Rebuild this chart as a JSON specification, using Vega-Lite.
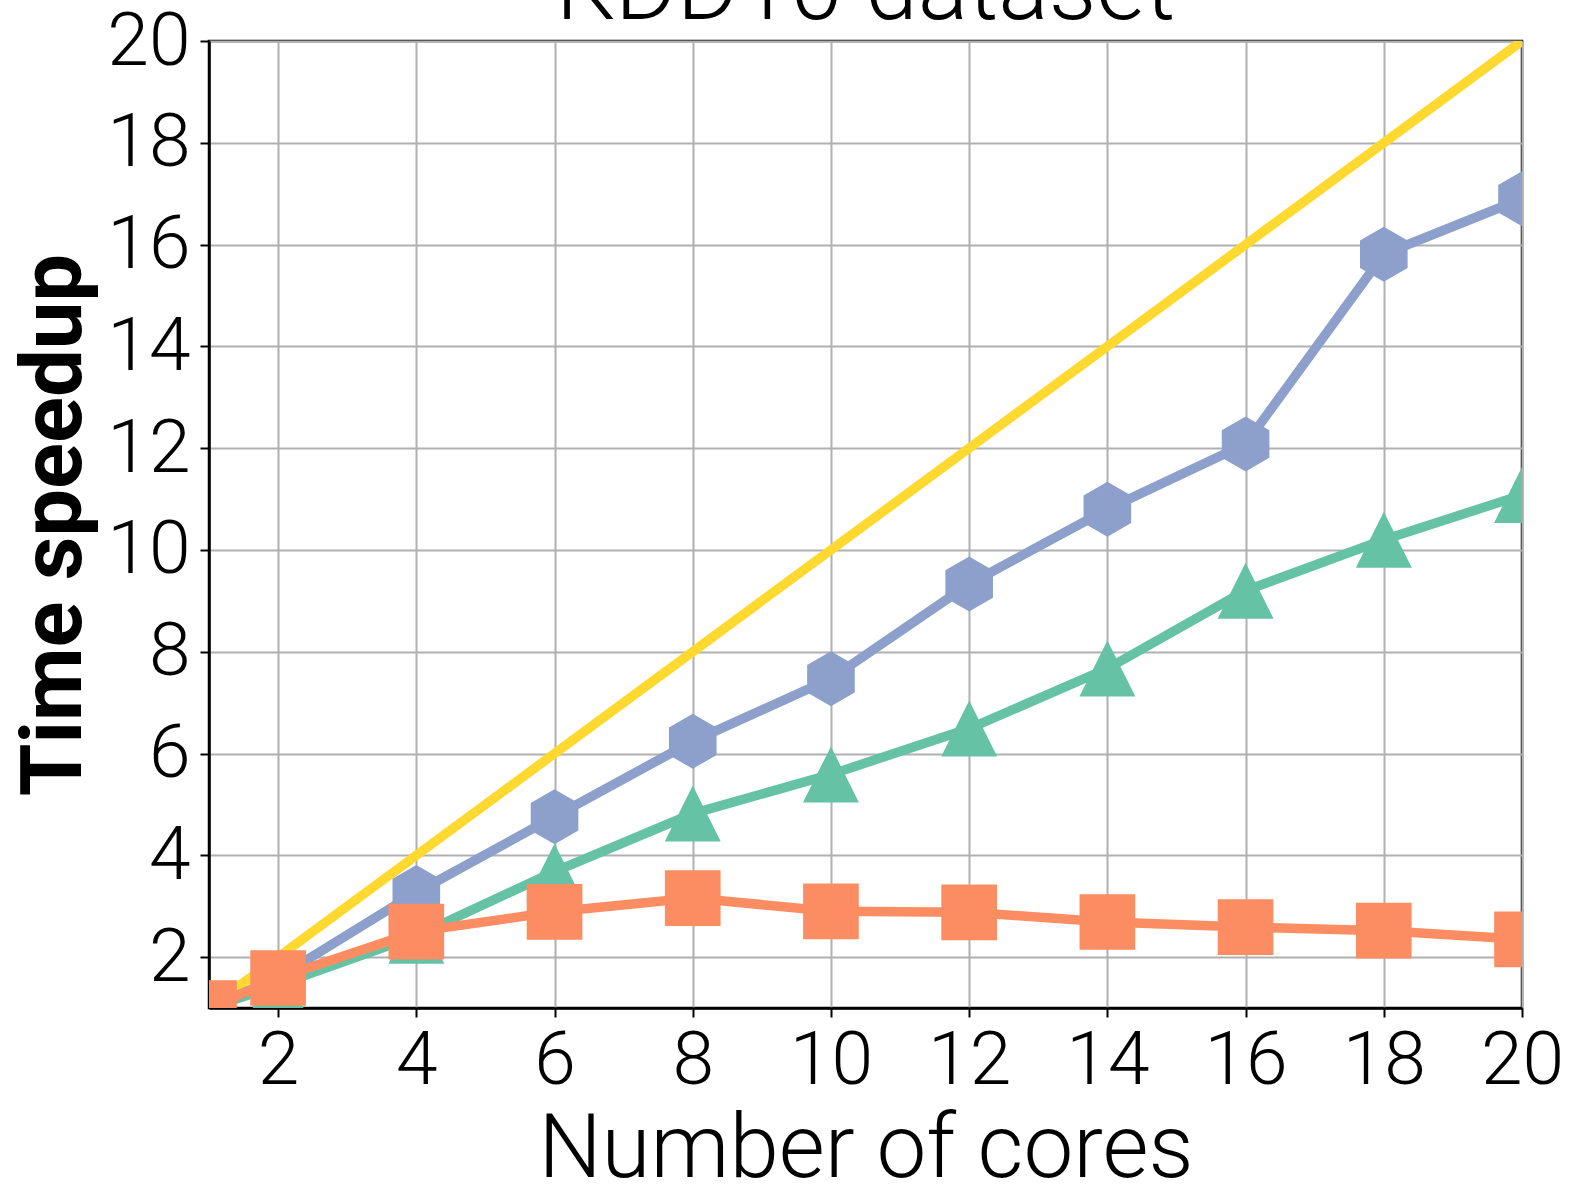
{
  "$schema": "https://vega.github.io/schema/vega-lite/v6.json",
  "autosize": {"type": "none"},
  "width": 1313,
  "height": 967,
  "padding": {"left": 209, "top": 41, "right": 56, "bottom": 178},
  "background": "white",
  "title": {
    "text": "KDD10 dataset",
    "font": "Roboto",
    "fontWeight": 300,
    "fontSize": 94,
    "color": "black",
    "baseline": "alphabetic",
    "anchor": "middle",
    "frame": "group",
    "offset": 0,
    "dy": 109
  },
  "config": {
    "view": {"stroke": "black", "strokeWidth": 2.5},
    "axis": {
      "labelFont": "Roboto",
      "labelFontWeight": 300,
      "labelFontSize": 75,
      "labelColor": "black",
      "tickColor": "black",
      "tickWidth": 2,
      "tickSize": 9,
      "domainColor": "black",
      "domainWidth": 2.5,
      "gridColor": "#b0b0b0",
      "gridWidth": 2,
      "gridOpacity": 1,
      "titleColor": "black",
      "labelFlush": false,
      "labelOverlap": false
    }
  },
  "data": {
    "values": [
      {"cores": 1, "speedup": 1, "series": "ideal"},
      {"cores": 20, "speedup": 20, "series": "ideal"},
      {"cores": 1, "speedup": 1.0, "series": "green"},
      {"cores": 2, "speedup": 1.45, "series": "green"},
      {"cores": 4, "speedup": 2.42, "series": "green"},
      {"cores": 6, "speedup": 3.68, "series": "green"},
      {"cores": 8, "speedup": 4.82, "series": "green"},
      {"cores": 10, "speedup": 5.59, "series": "green"},
      {"cores": 12, "speedup": 6.49, "series": "green"},
      {"cores": 14, "speedup": 7.67, "series": "green"},
      {"cores": 16, "speedup": 9.2, "series": "green"},
      {"cores": 18, "speedup": 10.2, "series": "green"},
      {"cores": 20, "speedup": 11.08, "series": "green"},
      {"cores": 1, "speedup": 1.0, "series": "blue"},
      {"cores": 2, "speedup": 1.6, "series": "blue"},
      {"cores": 4, "speedup": 3.27, "series": "blue"},
      {"cores": 6, "speedup": 4.76, "series": "blue"},
      {"cores": 8, "speedup": 6.24, "series": "blue"},
      {"cores": 10, "speedup": 7.47, "series": "blue"},
      {"cores": 12, "speedup": 9.33, "series": "blue"},
      {"cores": 14, "speedup": 10.8, "series": "blue"},
      {"cores": 16, "speedup": 12.08, "series": "blue"},
      {"cores": 18, "speedup": 15.81, "series": "blue"},
      {"cores": 20, "speedup": 16.9, "series": "blue"},
      {"cores": 1, "speedup": 1.0, "series": "orange"},
      {"cores": 2, "speedup": 1.59, "series": "orange"},
      {"cores": 4, "speedup": 2.5, "series": "orange"},
      {"cores": 6, "speedup": 2.89, "series": "orange"},
      {"cores": 8, "speedup": 3.16, "series": "orange"},
      {"cores": 10, "speedup": 2.9, "series": "orange"},
      {"cores": 12, "speedup": 2.88, "series": "orange"},
      {"cores": 14, "speedup": 2.69, "series": "orange"},
      {"cores": 16, "speedup": 2.59, "series": "orange"},
      {"cores": 18, "speedup": 2.52, "series": "orange"},
      {"cores": 20, "speedup": 2.35, "series": "orange"}
    ]
  },
  "encoding": {
    "x": {
      "field": "cores",
      "type": "quantitative",
      "scale": {"domain": [1, 20], "nice": false, "zero": false},
      "axis": {
        "values": [2, 4, 6, 8, 10, 12, 14, 16, 18, 20],
        "title": "Number of cores",
        "titleFont": "Roboto",
        "titleFontWeight": 300,
        "titleFontSize": 89,
        "titlePadding": 8,
        "labelPadding": 7
      }
    },
    "y": {
      "field": "speedup",
      "type": "quantitative",
      "scale": {"domain": [1, 20], "nice": false, "zero": false},
      "axis": {
        "values": [2, 4, 6, 8, 10, 12, 14, 16, 18, 20],
        "title": "Time speedup",
        "titleFont": "Roboto",
        "titleFontWeight": "bold",
        "titleFontSize": 85,
        "titlePadding": 8,
        "labelPadding": 10
      }
    }
  },
  "layer": [
    {
      "transform": [{"filter": "datum.series === 'ideal'"}],
      "mark": {"type": "line", "color": "#ffd92f", "strokeWidth": 9.5, "clip": true}
    },
    {
      "transform": [{"filter": "datum.series === 'green'"}],
      "mark": {"type": "line", "color": "#66c2a5", "strokeWidth": 9.5, "clip": true}
    },
    {
      "transform": [{"filter": "datum.series === 'green'"}],
      "mark": {"type": "point", "shape": "M0,-1L1,1L-1,1Z", "filled": true, "size": 3136, "color": "#66c2a5", "opacity": 1, "strokeWidth": 0, "clip": true}
    },
    {
      "transform": [{"filter": "datum.series === 'blue'"}],
      "mark": {"type": "line", "color": "#8da0cb", "strokeWidth": 9.5, "clip": true}
    },
    {
      "transform": [{"filter": "datum.series === 'blue'"}],
      "mark": {"type": "point", "shape": "M0,-1L0.866,-0.5L0.866,0.5L0,1L-0.866,0.5L-0.866,-0.5Z", "filled": true, "size": 3025, "color": "#8da0cb", "opacity": 1, "strokeWidth": 0, "clip": true}
    },
    {
      "transform": [{"filter": "datum.series === 'orange'"}],
      "mark": {"type": "line", "color": "#fc8d62", "strokeWidth": 9.5, "clip": true}
    },
    {
      "transform": [{"filter": "datum.series === 'orange'"}],
      "mark": {"type": "point", "shape": "square", "filled": true, "size": 3100, "color": "#fc8d62", "opacity": 1, "strokeWidth": 0, "clip": true}
    }
  ]
}
